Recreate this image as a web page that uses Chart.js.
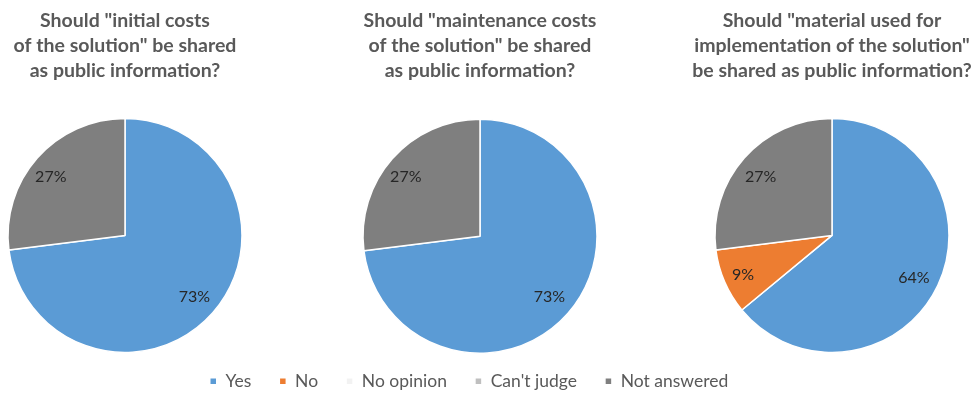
<!DOCTYPE html>
<html>
<head>
<meta charset="utf-8">
<script src="https://cdn.jsdelivr.net/npm/chart.js@4"></script>
<style>
  body { margin: 0; background: #fff; }
  #wrap { position: relative; width: 974px; height: 394px; }
  .box { position: absolute; top: 0; height: 394px; }
</style>
</head>
<body>
<div id="wrap">
  <div class="box" style="left:0;width:250px"><canvas id="c1"></canvas></div>
  <div class="box" style="left:0;width:974px"><canvas id="c2"></canvas></div>
  <div class="box" style="left:690px;width:284px"><canvas id="c3"></canvas></div>
</div>
<script>
const answers = ['Yes', 'No', 'No opinion', "Can't judge", 'Not answered']
const colors = ['#5B9BD5', '#ED7D31', '#F2F2F2', '#BFBFBF', '#7F7F7F']

const initialCosts = [73, 0, 0, 0, 27]
const maintenanceCosts = [73, 0, 0, 0, 27]
const materialUsed = [64, 9, 0, 0, 27]

const title1 = ['Should "initial costs', 'of the solution" be shared', 'as public information?']
const title2 = ['Should "maintenance costs', 'of the solution" be shared', 'as public information?']
const title3 = ['Should "material used for', 'implementation of the solution"', 'be shared as public information?']

const FONT = 'Lato, "Open Sans", sans-serif'

// draws the "73%" style labels inside the slices
// place[i] = [fraction of radius, fraction along the slice's angle]
const sliceLabels = {
  id: 'sliceLabels',
  afterDatasetsDraw(chart, args, opts) {
    const { ctx } = chart
    const meta = chart.getDatasetMeta(0)
    const values = chart.data.datasets[0].data
    ctx.save()
    ctx.font = '16px ' + FONT
    ctx.fillStyle = '#262626'
    ctx.textAlign = 'center'
    ctx.textBaseline = 'middle'
    meta.data.forEach((arc, i) => {
      if (!values[i]) return
      const p = arc.getProps(['x', 'y', 'startAngle', 'endAngle', 'outerRadius'], true)
      const place = opts.place[i] || [0.8, 0.5]
      const a = p.startAngle + (p.endAngle - p.startAngle) * place[1]
      const r = p.outerRadius * place[0]
      ctx.fillText(values[i] + '%', p.x + Math.cos(a) * r, p.y + Math.sin(a) * r)
    })
    ctx.restore()
  },
}

// the shared legend sits a little left of the middle pie
const legendShift = {
  id: 'legendShift',
  afterLayout(chart, args, opts) {
    if (!chart.legend || !opts.dx) return
    chart.legend.left += opts.dx
    chart.legend.right += opts.dx
  },
}

function makePie(id, title, values, place, showLegend, pad, titleGap) {
  return new Chart(document.getElementById(id), {
    type: 'pie',
    data: {
      labels: answers,
      datasets: [{
        data: values,
        backgroundColor: colors,
        borderColor: '#ffffff',
        borderWidth: 1.5,
      }],
    },
    options: {
      responsive: true,
      maintainAspectRatio: false,
      animation: false,
      radius: 117,
      layout: { padding: pad },
      plugins: {
        title: {
          display: true,
          text: title,
          color: '#595959',
          font: { family: FONT, size: 19.5, weight: 'bold', lineHeight: 1.28 },
          padding: { top: 8, bottom: titleGap },
        },
        legend: {
          display: showLegend,
          position: 'bottom',
          labels: {
            color: '#595959',
            font: { family: FONT, size: 17.5 },
            boxWidth: 7,
            boxHeight: 7,
            padding: 28,
          },
        },
        tooltip: { enabled: false },
        sliceLabels: { place: place },
        legendShift: { dx: showLegend ? -11 : 0 },
      },
    },
    plugins: [sliceLabels, legendShift],
  })
}

makePie('c1', title1, initialCosts, [[0.79, 0.5], null, null, null, [0.81, 0.47]], false, { top: 0, bottom: 36 }, 30)
makePie('c2', title2, maintenanceCosts, [[0.79, 0.5], null, null, null, [0.81, 0.47]], true, { left: 0, right: 14, top: 0, bottom: -6 }, 45)
makePie('c3', title3, materialUsed, [[0.79, 0.51], [0.83, 0.49], null, null, [0.79, 0.48]], false, { top: 0, bottom: 36 }, 30)
</script>
</body>
</html>
